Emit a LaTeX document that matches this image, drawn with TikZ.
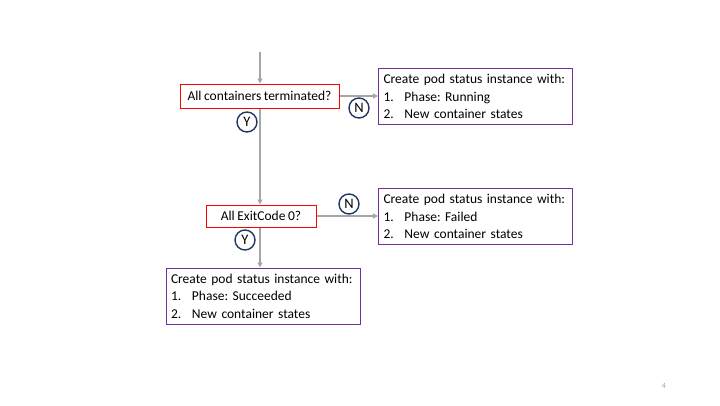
\documentclass[tikz,border=0pt]{standalone}
\usepackage{fontspec}
\setmainfont[WordSpace=0.85]{Carlito}
\usetikzlibrary{arrows.meta}
\definecolor{arrowgray}{HTML}{A6A6A6}
\definecolor{decred}{HTML}{FF0000}
\definecolor{respurple}{HTML}{7030A0}
\definecolor{navy}{HTML}{1F3864}
\tikzset{
  decision/.style={draw=decred, line width=1pt, fill=white, inner sep=0pt, font=\fontsize{13.5}{16}\selectfont},
  result/.style={draw=respurple, line width=1pt, fill=white, anchor=north west, inner xsep=5pt, inner ysep=0pt,
    minimum width=193pt, minimum height=56pt, text width=184pt, align=left,
    font=\fontsize{13.5}{17.5}\selectfont},
  flow/.style={draw=arrowgray, line width=1.3pt, -{Triangle[length=5pt,width=5pt]}},
  badge/.style={circle, draw=navy, line width=1.4pt, fill=white, minimum size=20pt, inner sep=0pt,
    font=\fontsize{14.5}{16}\selectfont},
}
\newcommand{\itm}[2]{\makebox[21pt][l]{#1}#2}
\begin{document}
\frenchspacing
\begin{tikzpicture}[x=1pt,y=-1pt]
\useasboundingbox (0,0) rectangle (720,405);
\coordinate (start) at (260,52);
\node[decision, minimum width=159pt, minimum height=24pt] (d1) at (259.5,96) {All containers terminated?};
\node[result] (r1) at (378,68) {Create pod status instance with:\\\itm{1.}{Phase: Running}\\\itm{2.}{New container states}};
\node[decision, minimum width=110pt, minimum height=22pt] (d2) at (261,216) {All ExitCode 0?};
\node[result] (r2) at (378,188) {Create pod status instance with:\\\itm{1.}{Phase: Failed}\\\itm{2.}{New container states}};
\node[result, minimum width=192pt] (r3) at (165.5,267.5) {Create pod status instance with:\\\itm{1.}{Phase: Succeeded}\\\itm{2.}{New container states}};

\draw[flow] (start) -- (start|-d1.north);
\draw[flow] (d1.east) -- (d1.east-|r1.west);
\draw[flow] (d1.south-|start) -- (start|-d2.north);
\draw[flow] (d2.east) -- (d2.east-|r2.west);
\draw[flow] (d2.south-|start) -- (start|-r3.north);

\node[badge] (n1) at (359,108) {N};
\node[badge] (y1) at (247,122) {Y};
\node[badge] (n2) at (349,204) {N};
\node[badge] (y2) at (245,240) {Y};

\node[text=arrowgray, font=\fontsize{8}{10}\selectfont] (pg) at (664,386) {4};
\end{tikzpicture}
\end{document}
